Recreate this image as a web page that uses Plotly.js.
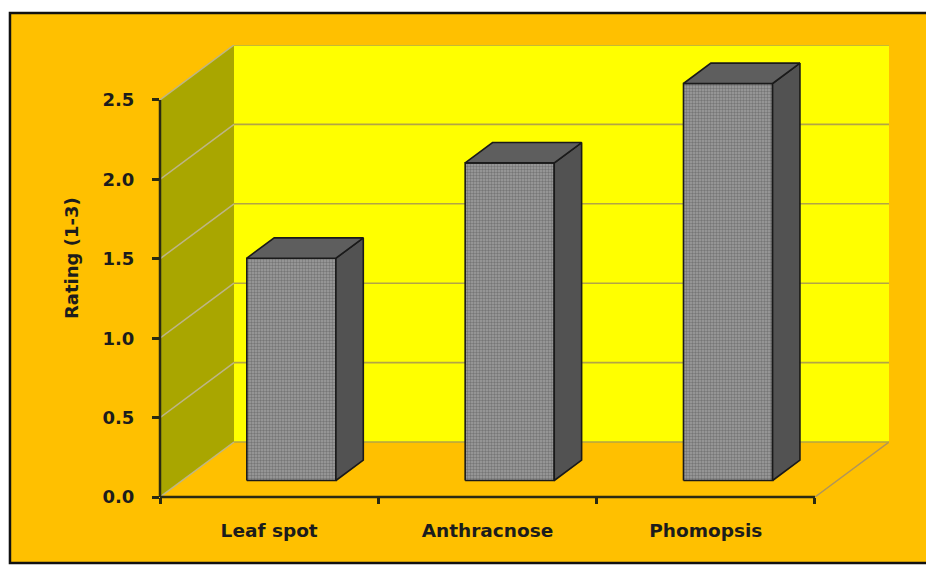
<!DOCTYPE html>
<html><head><meta charset="utf-8">
<script src="https://cdn.plot.ly/plotly-3.0.1.min.js"></script>
<style>html,body{margin:0;padding:0;background:#fff}#chart{width:926px;height:565px}</style>
</head><body><div id="chart"></div>
<script>
// ---- data ----
const categories = ['Leaf spot', 'Anthracnose', 'Phomopsis'];
const ratings = [1.4, 2.0, 2.5];
const yTickVals = [0, 0.5, 1, 1.5, 2, 2.5];
const yTickText = ['0.0', '0.5', '1.0', '1.5', '2.0', '2.5'];
const yTitle = 'Rating (1-3)';

// ---- oblique 3D geometry (axis units) ----
const DX = 0.339, DY = 0.3463;   // full depth of the chart box
const F0 = 0.30, F1 = 0.67;      // bar front/back depth fractions
const HALF = 0.204;              // half width of a bar
const n = categories.length;
const xmin = -0.5, xmax = n - 0.5;
const ymax = yTickVals[yTickVals.length - 1];
const xIdx = categories.map((c, i) => i);

const traces = [];
const fx0 = F0 * DX, fy0 = F0 * DY, fx1 = F1 * DX, fy1 = F1 * DY;
categories.forEach((c, i) => {
  const v = ratings[i];
  const xl = xIdx[i] - HALF, xr = xIdx[i] + HALF;
  const base = {type: 'scatter', mode: 'lines', fill: 'toself', showlegend: false,
                line: {color: '#1a1a1a', width: 1.6}, hoverinfo: 'skip'};
  // front face
  traces.push(Object.assign({}, base, {
    x: [xl + fx0, xr + fx0, xr + fx0, xl + fx0, xl + fx0],
    y: [fy0, fy0, v + fy0, v + fy0, fy0],
    fillcolor: '#979797',
    fillpattern: {shape: '.', size: 3, solidity: 0.5, fgcolor: '#767676', bgcolor: '#a0a0a0'},
    hoverinfo: 'text', hoveron: 'fills', text: c + ': ' + v
  }));
  // side face
  traces.push(Object.assign({}, base, {
    x: [xr + fx0, xr + fx1, xr + fx1, xr + fx0, xr + fx0],
    y: [fy0, fy1, v + fy1, v + fy0, fy0],
    fillcolor: '#525252'
  }));
  // top face
  traces.push(Object.assign({}, base, {
    x: [xl + fx0, xr + fx0, xr + fx1, xl + fx1, xl + fx0],
    y: [v + fy0, v + fy0, v + fy1, v + fy1, v + fy0],
    fillcolor: '#5e5e5e'
  }));
});

// ---- chart box (walls, floor, gridlines) ----
const shapes = [];
// outer frame
shapes.push({type: 'rect', xref: 'paper', yref: 'paper', x0: -0.2058, x1: 1.12, y0: -0.146, y1: 1.0708,
  fillcolor: '#FFC000', line: {color: '#111', width: 2.5}, layer: 'below'});
// back wall
shapes.push({type: 'rect', xref: 'x', yref: 'y', x0: xmin + DX, x1: xmax + DX, y0: DY, y1: ymax + DY,
  fillcolor: '#FFFF00', line: {width: 0}, layer: 'below'});
// side wall
shapes.push({type: 'path', xref: 'x', yref: 'y', layer: 'below',
  path: `M${xmin},0 L${xmin},${ymax} L${xmin + DX},${ymax + DY} L${xmin + DX},${DY} Z`,
  fillcolor: '#A9A600', line: {width: 0}});
// floor
shapes.push({type: 'path', xref: 'x', yref: 'y', layer: 'below',
  path: `M${xmin},0 L${xmax},0 L${xmax + DX},${DY} L${xmin + DX},${DY} Z`,
  fillcolor: '#FFC000', line: {width: 0}});
// floor right edge
shapes.push({type: 'line', xref: 'x', yref: 'y', layer: 'below', x0: xmax, y0: 0, x1: xmax + DX, y1: DY,
  line: {color: '#B0955A', width: 1.5}});
// gridlines on back wall & side wall
yTickVals.forEach(v => {
  shapes.push({type: 'line', xref: 'x', yref: 'y', layer: 'below', x0: xmin + DX, x1: xmax + DX, y0: v + DY, y1: v + DY,
    line: {color: '#B3A545', width: 1.6}});
  shapes.push({type: 'line', xref: 'x', yref: 'y', layer: 'below', x0: xmin, x1: xmin + DX, y0: v, y1: v + DY,
    line: {color: '#BDB587', width: 1.5}});
});
// axis lines
shapes.push({type: 'line', xref: 'x', yref: 'paper', x0: xmin, x1: xmax, y0: 0, y1: 0,
  line: {color: '#2a2a12', width: 2.5}, layer: 'above'});
shapes.push({type: 'line', xref: 'paper', yref: 'y', x0: 0, x1: 0, y0: 0, y1: ymax,
  line: {color: '#2a2a12', width: 2.5}, layer: 'above'});

const font = {family: 'DejaVu Sans', size: 18, color: '#1c1c1c', weight: 'bold'};

const layout = {
  width: 926, height: 565,
  margin: {l: 160, r: 37, t: 45, b: 68},
  paper_bgcolor: '#ffffff',
  plot_bgcolor: 'rgba(0,0,0,0)',
  showlegend: false,
  xaxis: {
    range: [xmin, xmax + DX], showgrid: false, zeroline: false, showline: false,
    tickmode: 'array', tickvals: xIdx, ticktext: categories, ticks: '',
    ticklabelstandoff: 20, tickfont: Object.assign({}, font, {size: 18.5}),
    minor: {tickmode: 'array', tickvals: xIdx.map(i => i - 0.5).concat([xmax]), ticks: 'outside',
            ticklen: 6, tickwidth: 2.5, tickcolor: '#2a2a12', showgrid: false},
    fixedrange: true
  },
  yaxis: {
    range: [0, ymax + DY], showgrid: false, zeroline: false, showline: false,
    tickmode: 'array', tickvals: yTickVals, ticktext: yTickText,
    ticks: 'outside', ticklen: 7, tickwidth: 2.5, tickcolor: '#2a2a12',
    ticklabelstandoff: 14, tickfont: font, fixedrange: true
  },
  shapes: shapes,
  annotations: [{
    text: yTitle, xref: 'paper', yref: 'paper', x: -0.1207, y: 0.5288,
    textangle: -90, showarrow: false, xanchor: 'center', yanchor: 'middle', font: font
  }]
};

Plotly.newPlot('chart', traces, layout, {displayModeBar: false});
</script>
</body></html>
